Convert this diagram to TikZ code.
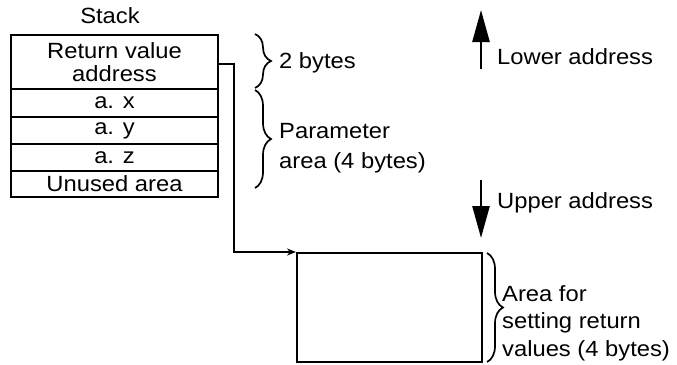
\documentclass[tikz,border=0pt]{standalone}
\usepackage{fontspec}
\setmainfont{Liberation Sans}[FakeStretch=1.08]
\usetikzlibrary{arrows.meta,decorations.pathreplacing}
\begin{document}
\begin{tikzpicture}[x=1pt,y=-1pt,
  every node/.style={font=\fontsize{22}{23}\selectfont},
  row/.style={draw,line width=2pt,minimum width=207pt,inner sep=0pt,align=center,font=\fontsize{22}{23}\selectfont},
  lbl/.style={anchor=west,inner sep=0pt,align=left,font=\fontsize{22}{29.5}\selectfont},
  brc/.style={decorate,decoration={brace,amplitude=16pt},line width=1.7pt},
  conn/.style={line width=1.7pt,-{Stealth[length=9pt,width=7pt]}},
  dirarrow/.style={line width=2.6pt,-{Triangle[width=17pt,length=32pt]}}]
\useasboundingbox (0,0) rectangle (677,364);
\node[inner sep=0pt] (stk) at (110,16) {Stack};
\node[row,minimum height=54pt] (r1) at (114.5,62) {Return value\\address};
\node[row,minimum height=28pt] (r2) at (114.5,103) {a. x};
\node[row,minimum height=27pt] (r3) at (114.5,130.5) {a. y};
\node[row,minimum height=27pt] (r4) at (114.5,157.5) {a. z};
\node[row,minimum height=26pt] (r5) at (114.5,184) {Unused area};
\node[draw,line width=2pt,minimum width=185pt,minimum height=109pt] (ret) at (389.5,307.5) {};
\draw[conn] ([yshift=-2pt]r1.east) -- ++(15,0) |- (ret.north west);
% braces
\coordinate (b1a) at (255,34);
\coordinate (b1b) at (255,88);
\coordinate (b2a) at (255,90);
\coordinate (b2b) at (255,188);
\coordinate (b3a) at (487,253);
\coordinate (b3b) at (487,362);
\draw[brc] (b1a) -- (b1b);
\draw[brc] (b2a) -- (b2b);
\draw[brc] (b3a) -- (b3b);
\node[lbl] (l2b) at (279,63) {2 bytes};
\node[lbl] (lpar) at (279,148) {Parameter\\area (4 bytes)};
\node[lbl,font=\fontsize{22}{27.5}\selectfont] (lret) at (502,323) {Area for\\setting return\\values (4 bytes)};
% direction arrows
\coordinate (ua1) at (481,69);
\coordinate (ua2) at (481,10);
\coordinate (da1) at (481,180);
\coordinate (da2) at (481,238);
\draw[dirarrow] (ua1) -- (ua2);
\draw[dirarrow] (da1) -- (da2);
\node[lbl] (llow) at (497,57) {Lower address};
\node[lbl] (lup) at (497,203) {Upper address};
\end{tikzpicture}
\end{document}
